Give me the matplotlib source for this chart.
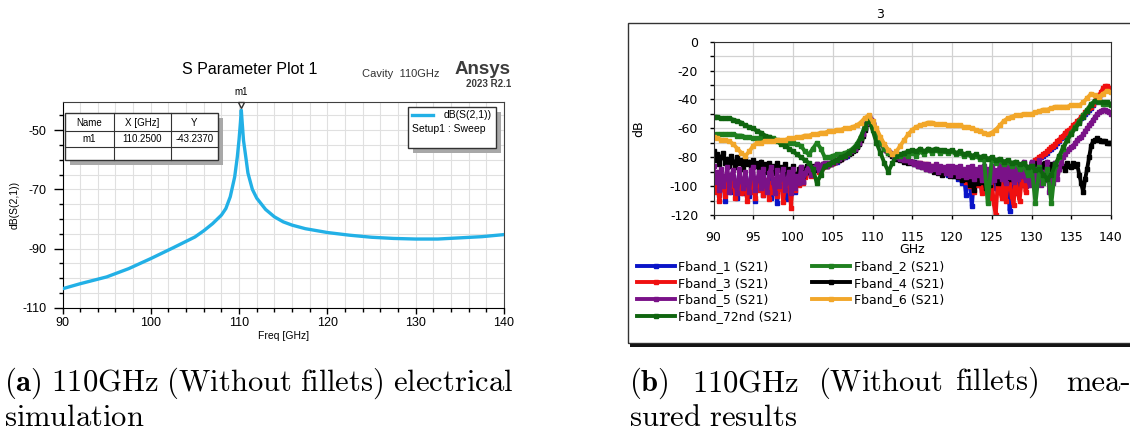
import numpy as np
import matplotlib
matplotlib.use("Agg")
import matplotlib.pyplot as plt
from matplotlib.patches import Rectangle
from matplotlib.lines import Line2D
from matplotlib.ticker import MultipleLocator
from matplotlib.transforms import offset_copy

W, H = 1130, 436

plt.rcParams["mathtext.fontset"] = "cm"
plt.rcParams["axes.unicode_minus"] = False

# ---- (a) simulated S21 (HFSS) ----
sim_freq = [90, 92, 95, 97.5, 100, 102.5, 105, 106, 107, 108, 108.5, 109, 109.5,
            109.8, 110, 110.15, 110.25, 110.35, 110.5, 110.8, 111, 111.5, 112, 113,
            114, 115, 116, 117.5, 120, 122.5, 125, 127.5, 130, 132.5, 135, 137.5, 140]
sim_db = [-103.6, -101.9, -99.6, -96.8, -93.4, -89.8, -86.1, -84.0, -81.6, -78.7,
          -76.5, -72.5, -65.8, -59.0, -53.0, -47.5, -43.24, -47.5, -53.5, -60.0,
          -64.5, -70.0, -73.0, -76.8, -79.3, -81.0, -82.1, -83.3, -84.6, -85.5,
          -86.2, -86.6, -86.8, -86.8, -86.4, -86.0, -85.3]
marker_freq = 110.25
marker_db = -43.237

# ---- (b) measured S21 ----
# noisy traces read on a 0.25 GHz grid, smoother ones on a 0.5 GHz grid
freq_fine = np.arange(90, 140.001, 0.25)
freq_coarse = np.arange(90, 140.001, 0.5)

fband_1 = [-92, -100, -95, -106, -93, -98, -110, -95, -97, -104, -94, -101, -108, -96, -99, -105, -95, -102, -107, -94,
           -96, -110, -97, -101, -95, -106, -98, -103, -94, -108, -99, -96, -112, -100, -95, -104, -97, -109, -99, -96,
           -93, -104, -98, -95, -91, -97, -93, -90, -88, -92, -89, -87, -86, -88, -87, -86, -85, -86, -85, -84,
           -84, -83, -83, -82, -81, -80, -80, -79, -77, -76, -75, -74, -72, -70, -67, -64, -60, -56, -52, -54,
           -57, -60, -63, -66, -69, -71, -73, -75, -76, -77, -78, -79, -80, -80, -81, -81, -82, -82, -83, -83,
           -84, -83, -85, -84, -86, -85, -86, -87, -86, -88, -87, -88, -89, -88, -90, -89, -91, -90, -92, -91,
           -89, -93, -91, -95, -90, -98, -92, -106, -93, -97, -114, -95, -92, -99, -94, -103, -93, -100, -96, -108,
           -94, -101, -96, -104, -95, -100, -97, -106, -94, -117, -96, -102, -92, -105, -95, -99, -91, -100, -94, -97,
           -86, -85, -83, -82, -81, -80, -79, -78, -77, -75, -74, -73, -72, -70, -69, -67, -66, -64, -63, -62,
           -61, -59, -58, -56, -55, -53, -52, -50, -49, -47, -46, -44, -42, -40, -38, -36, -34, -33, -32, -33,
           -34]
fband_3 = [-95, -104, -98, -110, -96, -101, -107, -97, -103, -99, -96, -108, -100, -97, -105, -98, -102, -110, -97, -104,
           -96, -108, -99, -103, -97, -106, -100, -96, -109, -98, -104, -95, -107, -101, -94, -111, -99, -103, -96, -115,
           -93, -103, -97, -99, -92, -98, -94, -91, -89, -93, -90, -88, -87, -90, -88, -87, -85, -86, -85, -85,
           -84, -83, -82, -82, -81, -80, -79, -78, -77, -76, -75, -74, -72, -70, -67, -64, -60, -56, -52, -54,
           -57, -60, -63, -66, -69, -71, -73, -75, -76, -77, -78, -79, -80, -80, -81, -81, -82, -82, -83, -83,
           -83, -84, -84, -85, -84, -85, -86, -85, -86, -87, -86, -87, -88, -87, -88, -89, -88, -90, -89, -90,
           -88, -91, -90, -93, -89, -95, -91, -97, -93, -100, -92, -104, -95, -99, -93, -105, -97, -102, -95, -108,
           -95, -112, -120, -98, -103, -108, -96, -110, -100, -96, -107, -113, -94, -104, -110, -97, -92, -104, -99, -95,
           -86, -84, -82, -81, -80, -79, -78, -77, -76, -74, -73, -72, -71, -69, -68, -66, -65, -63, -62, -61,
           -60, -58, -57, -55, -54, -52, -51, -49, -48, -46, -45, -43, -41, -39, -37, -35, -32, -31, -31, -32,
           -33]
fband_4 = [-76, -82, -78, -85, -80, -77, -84, -81, -86, -79, -83, -87, -80, -84, -82, -88, -81, -85, -83, -87,
           -82, -86, -84, -89, -83, -87, -85, -90, -84, -88, -86, -91, -84, -89, -87, -92, -85, -94, -88, -96,
           -86, -92, -98, -88, -87, -93, -89, -86, -90, -88, -86, -89, -85, -87, -86, -85, -84, -86, -84, -85,
           -83, -83, -82, -82, -81, -80, -79, -78, -78, -77, -76, -75, -73, -71, -68, -65, -61, -57, -54, -55,
           -58, -61, -64, -67, -69, -71, -73, -75, -77, -78, -79, -80, -81, -81, -82, -82, -83, -82, -84, -83,
           -83, -85, -84, -86, -85, -87, -86, -88, -86, -89, -87, -90, -88, -91, -87, -92, -89, -91, -90, -93,
           -88, -93, -90, -94, -89, -96, -91, -95, -92, -99, -91, -103, -94, -98, -92, -97, -95, -101, -93, -99,
           -90, -96, -92, -98, -89, -94, -91, -97, -88, -95, -90, -93, -87, -94, -89, -92, -86, -91, -88, -90,
           -85, -89, -87, -84, -88, -85, -90, -84, -87, -88, -85, -89, -84, -87, -88, -85, -86, -89, -84, -86,
           -87, -84, -86, -85, -92, -98, -104, -95, -88, -80, -72, -69, -68, -67, -68, -69, -69, -69, -70, -70,
           -70]
fband_5 = [-86, -97, -90, -103, -88, -100, -94, -87, -104, -92, -89, -99, -105, -88, -96, -101, -90, -98, -104, -89,
           -87, -103, -95, -90, -101, -88, -99, -104, -91, -87, -97, -105, -89, -100, -94, -88, -103, -96, -90, -105,
           -88, -101, -93, -98, -87, -97, -91, -89, -86, -92, -88, -87, -85, -89, -86, -85, -84, -86, -84, -85,
           -83, -83, -82, -81, -80, -80, -79, -78, -77, -76, -75, -74, -72, -70, -67, -64, -60, -56, -52, -54,
           -57, -60, -63, -66, -69, -71, -73, -75, -76, -77, -78, -79, -80, -80, -81, -81, -82, -82, -82, -83,
           -83, -85, -84, -86, -84, -87, -85, -88, -85, -89, -86, -88, -85, -90, -86, -89, -87, -91, -86, -92,
           -86, -90, -87, -93, -86, -92, -88, -94, -87, -93, -86, -95, -88, -92, -87, -96, -86, -94, -88, -97,
           -86, -96, -89, -93, -85, -95, -88, -98, -84, -94, -87, -97, -84, -95, -88, -93, -83, -96, -87, -99,
           -83, -97, -88, -95, -82, -99, -90, -96, -83, -104, -92, -98, -84, -95, -88, -84, -80, -78, -76, -74,
           -73, -72, -70, -68, -67, -66, -64, -62, -60, -58, -56, -54, -52, -50, -49, -48, -47, -47, -48, -49,
           -50]
fband_2 = [-65, -64, -64, -64, -64, -64, -65, -65, -66, -66,
           -67, -67, -67, -67, -66, -67, -68, -69, -69, -70,
           -70, -71, -72, -76, -78, -74, -70, -74, -80, -80,
           -79, -78, -78, -77, -76, -74, -71, -66, -59, -54,
           -59, -65, -70, -74, -77, -78, -79, -79, -78, -79,
           -77, -79, -76, -78, -75, -77, -75, -77, -76, -77,
           -76, -78, -77, -79, -78, -80, -79, -81, -80, -112,
           -81, -84, -82, -85, -83, -86, -84, -88, -85, -92,
           -86, -112, -87, -98, -88, -112, -86, -80, -74, -68,
           -63, -59, -55, -51, -47, -43, -41, -42, -43, -43,
           -44]
fband_6 = [-66, -67, -68, -68, -69, -71, -74, -77, -79, -76,
           -72, -70, -70, -69, -69, -69, -68, -68, -68, -67,
           -67, -66, -66, -65, -65, -64, -64, -63, -63, -62,
           -62, -61, -61, -60, -60, -59, -58, -56, -53, -51,
           -55, -60, -66, -71, -75, -78, -76, -72, -68, -64,
           -61, -59, -58, -57, -56, -56, -57, -57, -57, -58,
           -58, -58, -58, -59, -59, -60, -61, -62, -63, -64,
           -63, -61, -58, -55, -53, -52, -51, -51, -50, -50,
           -50, -49, -48, -47, -47, -46, -45, -45, -45, -45,
           -44, -44, -44, -42, -39, -36, -37, -38, -36, -34,
           -35]
fband_72nd = [-52, -52, -53, -53, -53, -54, -55, -56, -58, -59,
              -60, -62, -63, -65, -66, -68, -69, -71, -72, -74,
              -76, -78, -80, -82, -84, -88, -98, -92, -86, -85,
              -83, -82, -80, -79, -77, -75, -72, -67, -60, -53,
              -61, -70, -77, -84, -90, -84, -79, -78, -77, -76,
              -75, -76, -74, -76, -74, -75, -74, -75, -75, -76,
              -75, -77, -76, -78, -77, -79, -78, -80, -79, -81,
              -80, -82, -81, -83, -82, -84, -83, -85, -84, -87,
              -86, -89, -88, -92, -95, -92, -85, -79, -73, -68,
              -64, -60, -56, -52, -48, -44, -41, -41, -42, -42,
              -43]

series = [
    ("Fband_1 (S21)", freq_fine, fband_1, "#0a14c8"),
    ("Fband_3 (S21)", freq_fine, fband_3, "#f01010"),
    ("Fband_4 (S21)", freq_fine, fband_4, "#000000"),
    ("Fband_5 (S21)", freq_fine, fband_5, "#7a1288"),
    ("Fband_2 (S21)", freq_coarse, fband_2, "#1f801f"),
    ("Fband_72nd (S21)", freq_coarse, fband_72nd, "#0f650f"),
    ("Fband_6 (S21)", freq_coarse, fband_6, "#f2a72a"),
]
legend_order = ["Fband_1 (S21)", "Fband_3 (S21)", "Fband_5 (S21)", "Fband_72nd (S21)",
                "Fband_2 (S21)", "Fband_4 (S21)", "Fband_6 (S21)"]


def px(x, y):
    return x / W, 1 - y / H


def box(fig, x0, y0, x1, y1, shadow=5):
    # grey drop shadow then white box (HFSS style)
    fig.add_artist(Rectangle(px(x0 + shadow, y1 + shadow), (x1 - x0) / W, (y1 - y0) / H,
                             transform=fig.transFigure, fc="#a8a8a8", ec="none", zorder=5))
    fig.add_artist(Rectangle(px(x0, y1), (x1 - x0) / W, (y1 - y0) / H,
                             transform=fig.transFigure, fc="white", ec="#333333", lw=1, zorder=6))


fig = plt.figure(figsize=(W / 100, H / 100), dpi=100)
ARIAL = "Liberation Sans"
VERD = "DejaVu Sans"

# ================= (a) =================
ax1 = fig.add_axes([62.5 / W, 1 - 307.7 / H, 441.5 / W, 206 / H])
ax1.plot(sim_freq, sim_db, color="#22b0e6", lw=2.4, zorder=3)
ax1.set_xlim(90, 140)
ax1.set_ylim(-110, -40.4)
ax1.xaxis.set_major_locator(MultipleLocator(10))
ax1.xaxis.set_minor_locator(MultipleLocator(2))
ax1.set_yticks([-110, -90, -70, -50])
ax1.set_yticks(np.arange(-110, -40, 5), minor=True)
ax1.grid(which="both", color="#e0e0e0", lw=0.8)
ax1.set_axisbelow(True)
ax1.tick_params(axis="y", which="major", length=6.8, width=1, pad=4.5, labelsize=9)
ax1.tick_params(axis="y", which="minor", length=3.2, width=1)
ax1.tick_params(axis="x", which="major", length=4.2, width=1, pad=2.6, labelsize=9)
ax1.tick_params(axis="x", which="minor", length=3, width=1)
for lab in ax1.get_xticklabels() + ax1.get_yticklabels():
    lab.set_family(ARIAL)
for s in ["top", "right"]:
    ax1.spines[s].set_color("#404040")
ax1.set_xlabel("Freq [GHz]", family=ARIAL, fontsize=7.5, labelpad=1)
ax1.set_ylabel("dB(S(2,1))", family=ARIAL, fontsize=7.5)
ax1.yaxis.set_label_coords(-0.097, 0.5)

# marker m1
tr = offset_copy(ax1.transData, fig=fig, x=0, y=4, units="points")
ax1.plot([marker_freq], [marker_db], marker="v", ms=5, mfc="white", mec="#303030",
         mew=1, transform=tr, clip_on=False, zorder=4)
ax1.annotate("m1", xy=(marker_freq, marker_db), xytext=(0, 13), textcoords="offset points",
             ha="center", va="center", fontsize=7, family=ARIAL, annotation_clip=False)

fig.text(*px(250, 69), "S Parameter Plot 1", ha="center", va="center", fontsize=11.5, family=ARIAL)
fig.text(*px(440, 74), "Cavity  110GHz", ha="right", va="center", fontsize=8, family=ARIAL,
         color="#333333")
fig.text(*px(511, 70), "Ansys", ha="right", va="center", fontsize=13.5, family=ARIAL,
         weight="bold", color="#3c3c3c")
fig.text(*px(511, 84), "2023 R2.1", ha="right", va="center", fontsize=7, family=ARIAL,
         weight="bold", color="#3c3c3c")

# marker table
box(fig, 65, 113, 218, 160)
for xv in [114, 171]:
    fig.add_artist(Line2D([xv / W, xv / W], [1 - 113 / H, 1 - 160 / H],
                          transform=fig.transFigure, color="#333333", lw=0.8, zorder=7))
for yv in [131.5, 146.5]:
    fig.add_artist(Line2D([65 / W, 218 / W], [1 - yv / H, 1 - yv / H],
                          transform=fig.transFigure, color="#333333", lw=0.8, zorder=7))
cols = [89.5, 142.5, 194.5]
for cx, t in zip(cols, ["Name", "X [GHz]", "Y"]):
    fig.text(*px(cx, 122.5), t, ha="center", va="center", fontsize=7, family=ARIAL, zorder=8)
for cx, t in zip(cols, ["m1", f"{marker_freq:.4f}", f"{marker_db:.4f}"]):
    fig.text(*px(cx, 139), t, ha="center", va="center", fontsize=7, family=ARIAL, zorder=8)

# curve legend
box(fig, 408, 107, 496, 148)
fig.add_artist(Line2D([412 / W, 433 / W], [1 - 115 / H, 1 - 115 / H],
                      transform=fig.transFigure, color="#22b0e6", lw=2.4, zorder=7))
fig.text(*px(492, 115), "dB(S(2,1))", ha="right", va="center", fontsize=7.5, family=ARIAL, zorder=8)
fig.text(*px(412, 129), "Setup1 : Sweep", ha="left", va="center", fontsize=7.5, family=ARIAL, zorder=8)

# ================= (b) =================
# outer chart frame + shadow
fig.add_artist(Rectangle(px(628, 343), (1145 - 628) / W, (343 - 23) / H,
                         transform=fig.transFigure, fill=False, ec="#333333", lw=1))
fig.add_artist(Rectangle(px(630, 346.5), (1145 - 630) / W, 3 / H,
                         transform=fig.transFigure, fc="#151515", ec="none"))

ax2 = fig.add_axes([713.5 / W, 1 - 215 / H, 397.5 / W, 173.3 / H])
handles = {}
for name, fq, vals, col in series:
    h, = ax2.plot(fq, vals, color=col, lw=2.8, marker="s", ms=2.2,
                  mec=col, label=name)
    handles[name] = h
ax2.set_xlim(90, 140)
ax2.set_ylim(-120, 0)
ax2.xaxis.set_major_locator(MultipleLocator(5))
ax2.yaxis.set_major_locator(MultipleLocator(20))
ax2.yaxis.set_minor_locator(MultipleLocator(10))
ax2.grid(which="major", color="#d2d2d2", lw=0.9)
ax2.yaxis.grid(which="minor", color="#d2d2d2", lw=0.9)
ax2.set_axisbelow(True)
ax2.tick_params(axis="y", which="both", length=3, width=1, pad=8, labelsize=9)
ax2.tick_params(axis="x", which="major", length=3, width=1, pad=8.5, labelsize=9)
for lab in ax2.get_xticklabels() + ax2.get_yticklabels():
    lab.set_family(VERD)
for s in ax2.spines.values():
    s.set_color("#303030")
ax2.set_xlabel("GHz", family=VERD, fontsize=9)
ax2.xaxis.set_label_coords(0.5, (215 - 243) / 173.3)
ax2.set_ylabel("dB", family=VERD, fontsize=9)
ax2.yaxis.set_label_coords((645 - 713.5) / 397.5, 0.5)
fig.text(*px(880, 14), "3", ha="center", va="center", fontsize=9, family=VERD)

leg = ax2.legend(handles=[handles[n] for n in legend_order], loc="upper left",
                 bbox_to_anchor=px(637, 260), bbox_transform=fig.transFigure, ncol=2,
                 frameon=False, prop={"family": VERD, "size": 9}, handlelength=3.0,
                 handletextpad=0.3, columnspacing=1.6, labelspacing=0.3, borderpad=0,
                 borderaxespad=0, numpoints=1, markerscale=1.2)

# ================= captions =================
cap = 22
fig.text(*px(4, 383), r"$\mathbf{(a)}\ \mathrm{110GHz\ (Without\ fillets)\ electrical}$",
         ha="left", va="center", fontsize=cap)
fig.text(*px(4, 417), r"$\mathrm{simulation}$", ha="left", va="center", fontsize=cap)
for xw, word in [(629, r"$\mathbf{(b)}$"), (692, r"$\mathrm{110GHz}$"),
                 (818, r"$\mathrm{(Without}$"), (955, r"$\mathrm{fillets)}$")]:
    fig.text(*px(xw, 383), word, ha="left", va="center", fontsize=cap)
fig.text(*px(1066, 383), "mea-", ha="left", va="center", fontsize=cap, family="cmr10")
fig.text(*px(629, 417), r"$\mathrm{sured\ results}$", ha="left", va="center", fontsize=cap)

fig.savefig("out.png", dpi=100)
